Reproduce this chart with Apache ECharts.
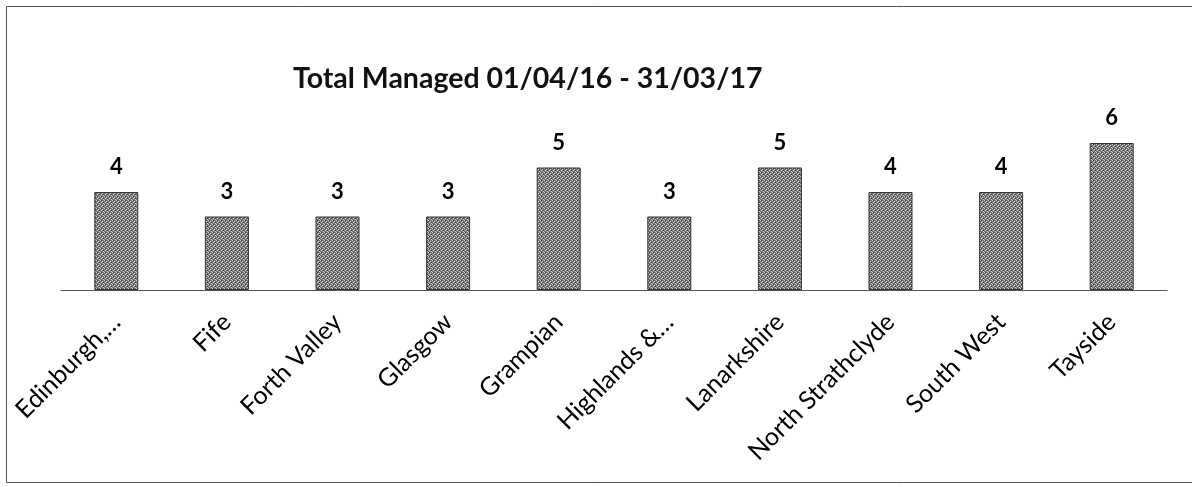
<!DOCTYPE html>
<html>
<head>
<meta charset="utf-8">
<script src="https://cdn.jsdelivr.net/npm/echarts@6/dist/echarts.min.js"></script>
<style>
html,body{margin:0;padding:0;background:#fff;}
#chart{width:1192px;height:487px;}
</style>
</head>
<body>
<div id="chart"></div>
<script>
const titleText = 'Total Managed 01/04/16 - 31/03/17';
const categories = ['Edinburgh,…', 'Fife', 'Forth Valley', 'Glasgow', 'Grampian', 'Highlands &…', 'Lanarkshire', 'North Strathclyde', 'South West', 'Tayside'];
const values = [4, 3, 3, 3, 5, 3, 5, 4, 4, 6];

// stippled grey texture like the scanned bars
function makePattern() {
  const c = document.createElement('canvas');
  c.width = 4; c.height = 4;
  const ctx = c.getContext('2d');
  ctx.fillStyle = '#767676';
  ctx.fillRect(0, 0, 4, 4);
  ctx.fillStyle = '#d4d4d4';
  ctx.fillRect(0, 0, 1, 1);
  ctx.fillRect(2, 1, 1, 1);
  ctx.fillRect(1, 2, 1, 1);
  ctx.fillRect(3, 3, 1, 1);
  ctx.fillStyle = '#333333';
  ctx.fillRect(1, 0, 1, 1);
  ctx.fillRect(3, 2, 1, 1);
  return c;
}

const chart = echarts.init(document.getElementById('chart'), null, {renderer: 'canvas'});
chart.setOption({
  animation: false,
  backgroundColor: '#ffffff',
  title: {
    text: titleText,
    left: 288,
    top: 59,
    textStyle: {fontFamily: 'Lato', fontWeight: 'bold', fontSize: 28.5, color: '#111'}
  },
  graphic: [{
    type: 'rect',
    shape: {x: 6.5, y: 6.5, width: 1200, height: 476},
    style: {fill: 'none', stroke: '#555', lineWidth: 1}
  }],
  grid: {left: 61, right: 25, top: 118.5, bottom: 197, containLabel: false},
  xAxis: {
    type: 'category',
    data: categories,
    axisLine: {show: true, lineStyle: {color: '#555', width: 1}},
    axisTick: {show: false},
    axisLabel: {
      rotate: 45,
      margin: 28,
      interval: 0,
      fontFamily: 'Lato',
      fontSize: 25,
      color: '#000'
    }
  },
  yAxis: {
    type: 'value',
    min: 0,
    max: 7,
    interval: 1,
    show: false,
    splitLine: {show: false}
  },
  series: [{
    type: 'bar',
    data: values,
    barWidth: 44,
    itemStyle: {
      color: {image: makePattern(), repeat: 'repeat'},
      borderColor: '#333',
      borderWidth: 1
    },
    label: {
      show: true,
      position: 'top',
      distance: 14,
      fontFamily: 'Lato',
      fontWeight: 'bold',
      fontSize: 22,
      color: '#000'
    }
  }]
});
</script>
</body>
</html>
